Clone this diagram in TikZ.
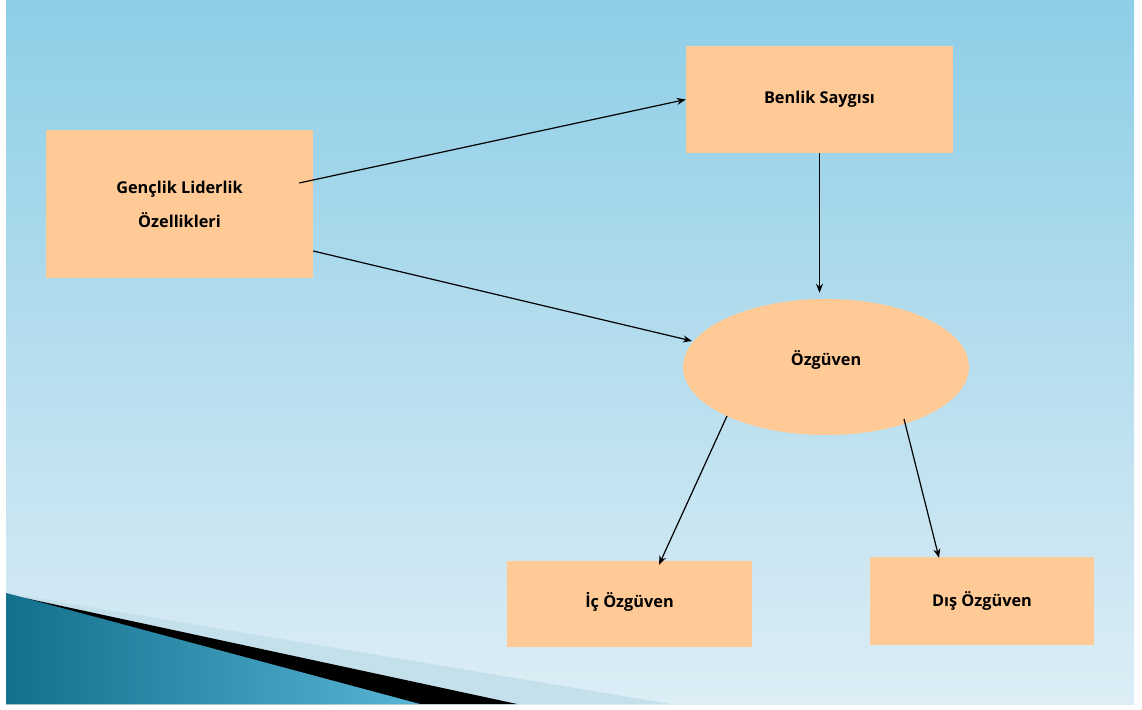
\documentclass[tikz,border=0pt]{standalone}
\usepackage{fontspec}
\setmainfont{Open Sans}
\usetikzlibrary{arrows.meta,shapes.geometric}
\definecolor{bgtop}{RGB}{142,206,231}
\definecolor{bgbot}{RGB}{220,237,245}
\definecolor{peach}{RGB}{255,202,150}
\definecolor{tealdark}{RGB}{18,112,140}
\definecolor{teallight}{RGB}{88,180,214}
\definecolor{lightband}{RGB}{196,224,235}
\tikzset{
  box/.style={rectangle, fill=peach, draw=none, inner sep=0pt,
    font=\fontsize{16.3}{34}\selectfont\bfseries, align=center},
  oval/.style={ellipse, fill=peach, draw=none, inner sep=0pt},
  arr/.style={-{Stealth[length=9pt,width=7pt]}, line width=1.2pt, black},
  lbl/.style={font=\fontsize{16.3}{20}\selectfont\bfseries}
}
\begin{document}
\begin{tikzpicture}[x=1pt,y=1pt]
\useasboundingbox (0,0) rectangle (1142,709);
\fill[white] (0,0) rectangle (1142,709);
% background
\shade[top color=bgtop, bottom color=bgbot] (6,5) rectangle (1134,709);
% bottom-left decoration
\fill[lightband] (6,116) -- (670,5) -- (6,5) -- cycle;
\fill[black] (6,115) -- (517,5) -- (6,5) -- cycle;
\shade[left color=tealdark, right color=teallight] (6,116) -- (420,5) -- (6,5) -- cycle;
% nodes
\node[box, minimum width=267pt, minimum height=148pt] (gl) at (179.5,505) {Gençlik Liderlik\\Özellikleri};
\node[box, minimum width=267pt, minimum height=107pt] (bl) at (819.5,609.5) {\raisebox{3pt}{Benlik Saygısı}};
\node[oval, minimum width=286pt, minimum height=136pt, label={[lbl, yshift=7pt]center:Özgüven}] (oz) at (826,342) {};
\node[box, minimum width=245pt, minimum height=86pt] (ic) at (629.5,105) {\raisebox{9pt}{İç Özgüven}};
\node[box, minimum width=224pt, minimum height=88pt] (ds) at (982,108) {Dış Özgüven};
% connectors
\draw[arr] ([shift={(-14,21)}]gl.east) -- (bl.west);
\draw[arr] ([shift={(0,-47)}]gl.east) -- ([shift={(-134,26)}]oz.center);
\draw[arr] (bl.south) -- ([yshift=6pt]bl.south |- oz.north);
\draw[arr] ([shift={(-99,-49)}]oz.center) -- ([shift={(29.5,-4)}]ic.north);
\draw[arr] ([shift={(78,-52)}]oz.center) -- ([shift={(-43,-1)}]ds.north);
\end{tikzpicture}
\end{document}
